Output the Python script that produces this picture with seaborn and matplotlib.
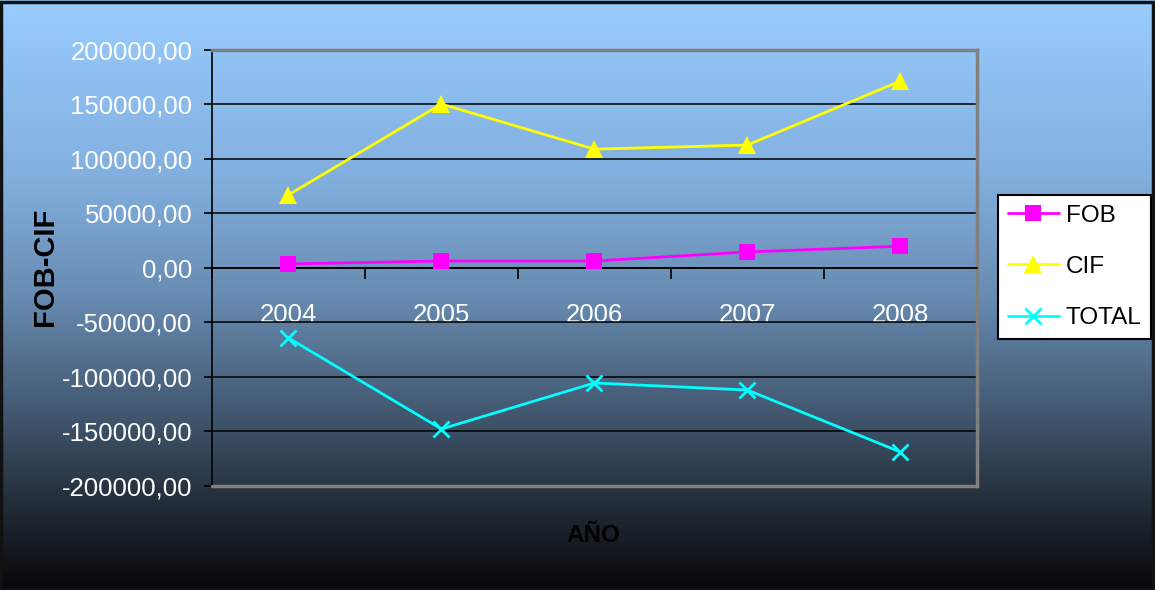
import numpy as np
import pandas as pd
import matplotlib
matplotlib.use("Agg")
import matplotlib.pyplot as plt
from matplotlib.colors import LinearSegmentedColormap
from matplotlib.patches import Rectangle
from matplotlib.lines import Line2D
from matplotlib.ticker import FixedLocator, FuncFormatter, MultipleLocator
import seaborn as sns

# ---- data -------------------------------------------------------------
years = ["2004", "2005", "2006", "2007", "2008"]
fob = [3700, 6400, 6400, 14700, 20000]
cif = [67000, 150400, 109000, 112800, 171500]
total = [-64200, -147700, -105500, -112000, -168800]
series_names = ["FOB", "CIF", "TOTAL"]

df = pd.DataFrame({
    "AÑO": years * 3,
    "valor": fob + cif + total,
    "serie": [s for s in series_names for _ in years],
})
df["pos"] = df["AÑO"].map({y: i for i, y in enumerate(years)})

# ---- style ------------------------------------------------------------
sns.set_theme(style="white")
plt.rcParams["font.family"] = ["Liberation Sans", "DejaVu Sans"]

fig = plt.figure(figsize=(11.55, 5.9), dpi=100)

# vertical gradient background, light sky blue fading to black
bg = fig.add_axes([0, 0, 1, 1], zorder=-10)
cmap = LinearSegmentedColormap.from_list("bg", [
    (0.00, (153/255, 204/255, 255/255)),
    (0.30, (130/255, 175/255, 222/255)),
    (0.50, (104/255, 140/255, 178/255)),
    (0.70, (66/255, 88/255, 112/255)),
    (0.85, (36/255, 46/255, 58/255)),
    (1.00, (6/255, 7/255, 9/255)),
])
bg.imshow(np.linspace(0, 1, 256).reshape(-1, 1), aspect="auto", cmap=cmap,
          extent=[0, 1, 0, 1], origin="upper")
bg.set_axis_off()
fig.patches.append(Rectangle((0.001, 0.002), 0.997, 0.995, transform=fig.transFigure,
                             fill=False, edgecolor="#111111", linewidth=2.5))

ax = fig.add_axes([0.1835, 0.1763, 0.6623, 0.739])
ax.set_facecolor("none")

palette = {"FOB": "#FF00FF", "CIF": "#FFFF00", "TOTAL": "#00FFFF"}
markers = {"FOB": "s", "CIF": "^", "TOTAL": "X"}
sns.lineplot(data=df, x="pos", y="valor", hue="serie", style="serie",
             palette=palette, markers=markers, dashes=False, linewidth=2,
             markersize=11, markeredgewidth=0, ax=ax, legend=False, zorder=5)
# CIF gets a larger triangle, TOTAL a thin cross
ax.lines[1].set_markersize(13)
ax.lines[2].set_marker("x")
ax.lines[2].set_markeredgewidth(2)
ax.lines[2].set_markeredgecolor(palette["TOTAL"])
ax.lines[2].set_markersize(11)

ax.set_xlim(-0.5, len(years) - 0.5)
ax.set_ylim(-200000, 200000)

# y axis
ax.yaxis.set_major_locator(MultipleLocator(50000))
ax.yaxis.set_major_formatter(FuncFormatter(lambda v, p: f"{int(round(v))},00"))
ax.grid(axis="y", color="black", linewidth=1.1)
ax.grid(axis="x", visible=False)
ax.tick_params(axis="y", which="major", direction="out", length=6, width=1.2,
               colors="black", labelcolor="white", labelsize=18.5, pad=8, left=True)

# x axis on the zero line: boundary ticks, centred year labels
ax.spines["bottom"].set_position(("data", 0))
ax.spines["bottom"].set_color("black")
ax.spines["bottom"].set_linewidth(1.2)
ax.xaxis.set_major_locator(FixedLocator(np.arange(-0.5, len(years), 1.0)))
ax.xaxis.set_major_formatter(FuncFormatter(lambda v, p: ""))
ax.set_xticks(np.arange(len(years)), years, minor=True)
ax.tick_params(axis="x", which="major", direction="out", length=8, width=1.2,
               colors="black", bottom=True)
ax.tick_params(axis="x", which="minor", length=0, labelcolor="white",
               labelsize=18.5, pad=25, bottom=True)

ax.spines["left"].set_color("black")
ax.spines["left"].set_linewidth(1.2)
for s in ("top", "right"):
    ax.spines[s].set_color("#808080")
    ax.spines[s].set_linewidth(2.5)
ax.axhline(-200000, color="#808080", linewidth=2.5, clip_on=False, zorder=4)

ax.set_xlabel("")
ax.set_ylabel("")
fig.text(0.039, 0.548, "FOB-CIF", rotation=90, ha="center", va="center",
         fontsize=21, fontweight="bold", color="black")
fig.text(0.5134, 0.0932, "AÑO", ha="center", va="center",
         fontsize=17.5, fontweight="bold", color="black")

# legend
handles = [
    Line2D([], [], color=palette["FOB"], marker="s", markersize=11, linewidth=2, markeredgewidth=0),
    Line2D([], [], color=palette["CIF"], marker="^", markersize=13, linewidth=2, markeredgewidth=0),
    Line2D([], [], color=palette["TOTAL"], marker="x", markersize=11, linewidth=2, markeredgewidth=2),
]
leg = fig.legend(handles, series_names, loc="upper left", bbox_to_anchor=(0.864, 0.6695),
                 frameon=True, fancybox=False, edgecolor="black", facecolor="white",
                 framealpha=1, fontsize=17.5, handlelength=2.1, handletextpad=0.3,
                 labelspacing=1.2, borderpad=0.4, borderaxespad=0)
leg.get_frame().set_linewidth(1.5)
for t in leg.get_texts():
    t.set_color("black")

fig.savefig("out.png", dpi=100)
